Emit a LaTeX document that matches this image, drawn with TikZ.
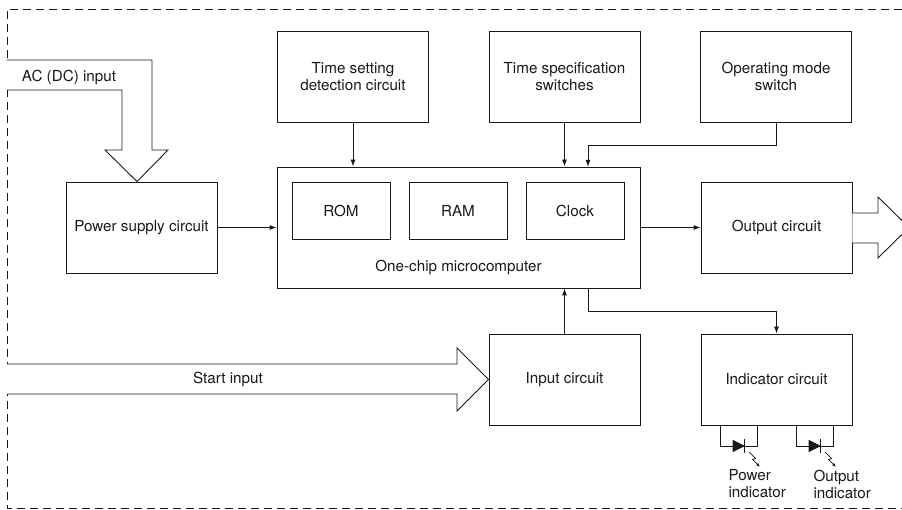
\documentclass[tikz,border=0pt]{standalone}
\usepackage{fontspec}
\setmainfont{TeX Gyre Heros}
\usetikzlibrary{arrows.meta}

\begin{document}
\begin{tikzpicture}
[
x=1pt, y=-1pt,
every node/.style={font=\fontsize{15.2}{17}\selectfont, text=black!90},
Block/.style={rectangle, draw=black!90, line width=0.9pt, minimum width=151pt, minimum height=91pt, inner sep=0pt, align=center},
Memory/.style={rectangle, draw=black!90, line width=0.9pt, minimum width=98pt, minimum height=57pt, inner sep=0pt},
Chip/.style={rectangle, draw=black!90, line width=0.9pt, minimum width=363pt, minimum height=121pt, inner sep=0pt},
Signal/.style={-{Latex[length=7pt,width=5pt]}, draw=black!90, line width=0.9pt},
Hollow/.style={draw=black!90, fill=white, line width=0.9pt, line join=miter},
Wire/.style={draw=black!90, line width=0.9pt},
Frame/.style={draw=black!90, line width=0.9pt, dash pattern=on 8pt off 5pt},
Lamp/.style={fill=black!90, draw=black!90, line width=0.7pt},
Ray/.style={-{Latex[length=4pt,width=3pt]}, draw=black!90, line width=0.7pt}
]

\clip (0,0) rectangle (902,510);

% outer dashed boundary
\draw[Frame] (902,9) -- (7,9) -- (7,508) -- (902,508);

% blocks
\node[Block] (PowerBox) at (141.5,227.5) {Power supply circuit};
\node[Block] (SettingBox) at (353,76.5) {Time setting\\detection circuit};
\node[Block] (SpecBox) at (564.5,76.5) {Time specification\\switches};
\node[Block] (ModeBox) at (776,76.5) {Operating mode\\switch};
\node[Chip]  (ChipBox) at (458.5,227.5) {};
\node[Memory] (RomBox) at (341,210.5) {ROM};
\node[Memory] (RamBox) at (458,210.5) {RAM};
\node[Memory] (ClockBox) at (575,210.5) {Clock};
\node (ChipLabel) at (458.5,267) {One-chip microcomputer};
\node[Block] (OutputBox) at (776.5,227.5) {Output circuit};
\node[Block] (InputBox) at (564.5,379.5) {Input circuit};
\node[Block] (IndicatorBox) at (776.5,379.5) {Indicator circuit};

% signal lines
\coordinate (ModeIn) at (588,167);
\coordinate (IndOut) at (588,288);
\draw[Signal] (PowerBox.east) -- (ChipBox.west);
\draw[Signal] (SettingBox.south) -- (SettingBox.south |- ChipBox.north);
\draw[Signal] (SpecBox.south) -- (SpecBox.south |- ChipBox.north);
\draw[Signal] (ModeBox.south) -- ++(0,23) -| (ModeIn);
\draw[Signal] (ChipBox.east |- OutputBox.west) -- (OutputBox.west);
\draw[Signal] (InputBox.north) -- (InputBox.north |- ChipBox.south);
\draw[Signal] (IndOut) -- ++(0,23) -| (IndicatorBox.north);

% wide arrows
\draw[Hollow] (7,60) -- (152,60) -- (152,150) -- (168,150) -- ([xshift=-4.5pt]PowerBox.north)
  -- (105,150) -- (122,150) -- (122,90) -- (7,90);
\node (AcLabel) at (69,77) {AC (DC) input};

\draw[Hollow] (7,364) -- (457,364) -- (457,348) -- (InputBox.west)
  -- (457,411) -- (457,394) -- (7,394);
\node (StartLabel) at (228,379) {Start input};

\draw[Hollow] (OutputBox.east |- 0,213) -- (878,213) -- (878,197) -- (909,227.5)
  -- (878,258) -- (878,243) -- (OutputBox.east |- 0,243);

% indicator lamps
\foreach \x in {0,76}{
  \draw[Wire] (720+\x,425) -- (720+\x,446) -- (757+\x,446) -- (757+\x,425);
  \draw[Lamp] (733+\x,440.5) -- (744+\x,446) -- (733+\x,451.5) -- cycle;
  \draw[Lamp] (744+\x,439) -- (744+\x,453);
  \draw[Ray] (749+\x,452) -- (755.5+\x,458.5) -- (752.5+\x,459.5) -- (760+\x,467);
}
\node[anchor=west, align=left] (PowerLamp) at (725,484) {Power\\indicator};
\node[anchor=west, align=left] (OutputLamp) at (810,484) {Output\\indicator};

\end{tikzpicture}
\end{document}
